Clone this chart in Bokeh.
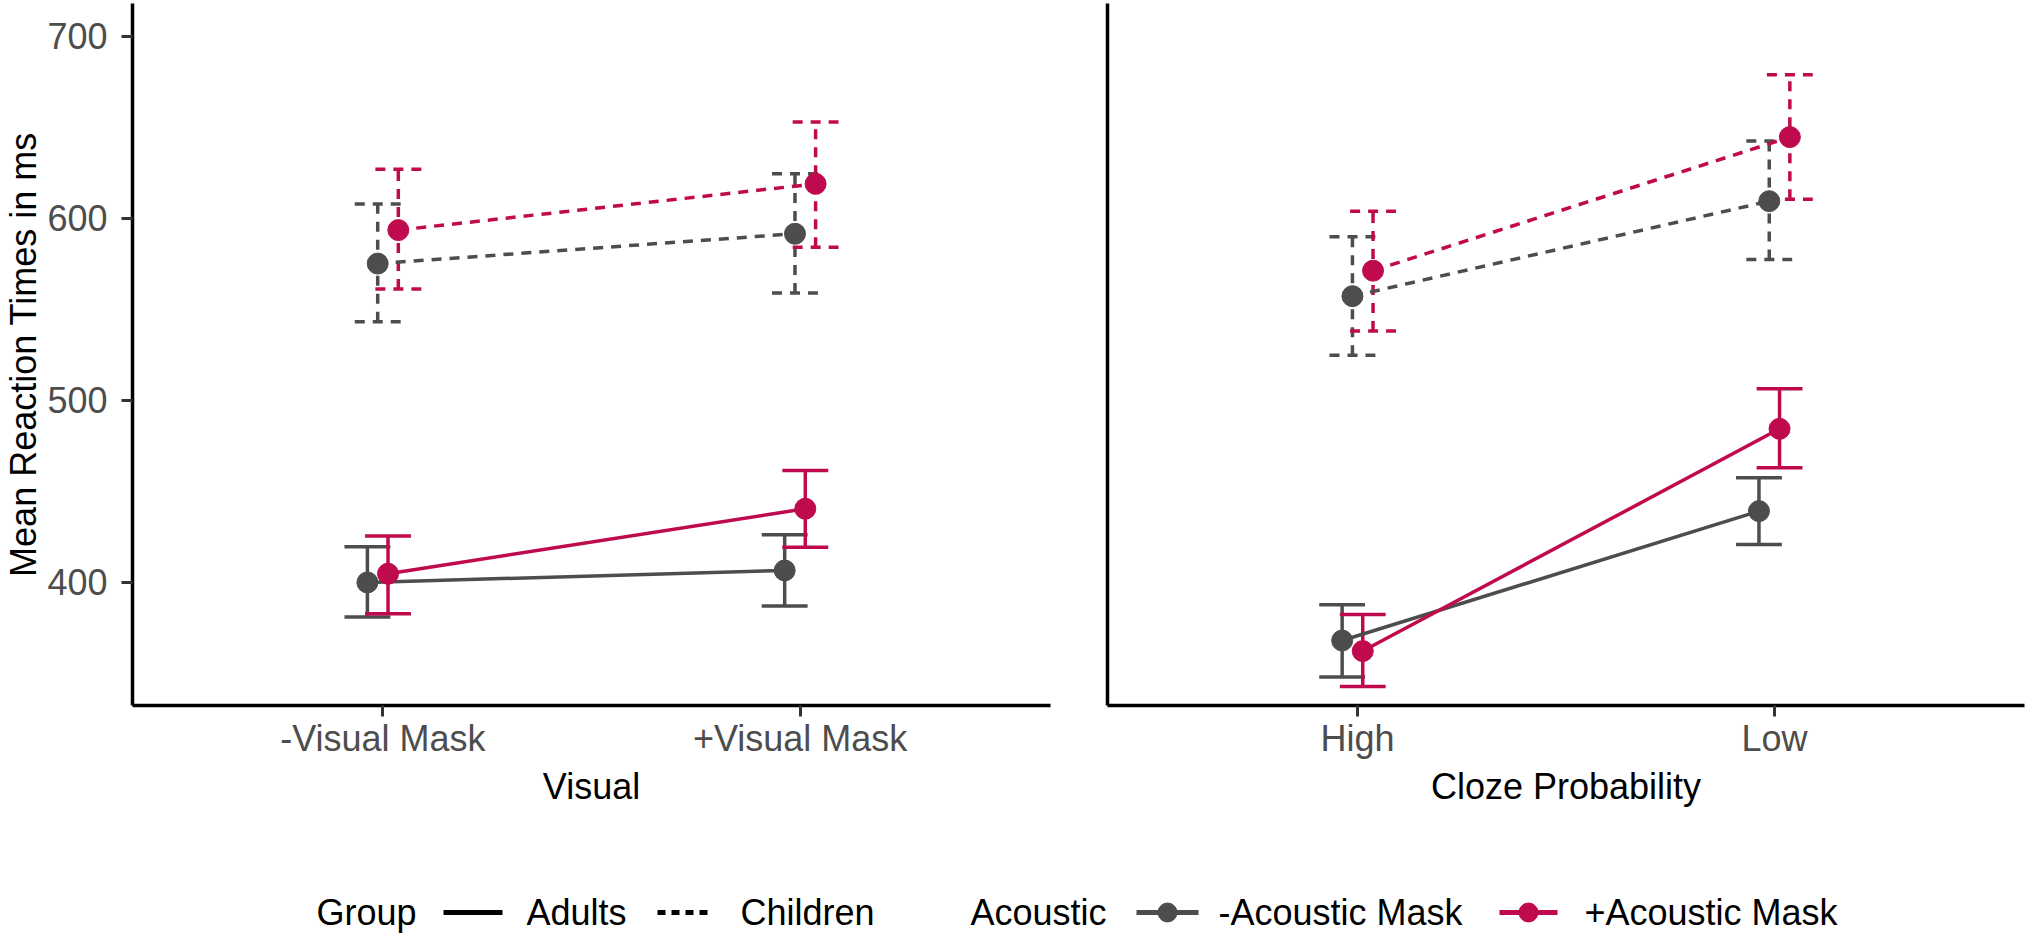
from bokeh.plotting import figure
from bokeh.models import Range1d, FixedTicker, ColumnDataSource
from bokeh.layouts import column, row
from bokeh.embed import file_html
from bokeh.resources import INLINE
from bokeh.core.properties import value

# ---------------- data ----------------
visual_categories = ["-Visual Mask", "+Visual Mask"]
cloze_categories = ["High", "Low"]
visual_title = "Visual"
cloze_title = "Cloze Probability"
y_title = "Mean Reaction Times in ms"
y_ticks = [400, 500, 600, 700]

group_labels = ["Adults", "Children"]
acoustic_labels = ["-Acoustic Mask", "+Acoustic Mask"]

# Visual panel
vis_adult_noac_mean = [400.0, 406.6]
vis_adult_noac_lo = [381.0, 387.0]
vis_adult_noac_hi = [419.6, 426.2]
vis_adult_ac_mean = [404.8, 440.5]
vis_adult_ac_lo = [382.8, 419.4]
vis_adult_ac_hi = [425.5, 461.5]
vis_child_noac_mean = [575.2, 591.6]
vis_child_noac_lo = [543.2, 559.0]
vis_child_noac_hi = [608.0, 624.6]
vis_child_ac_mean = [593.6, 619.0]
vis_child_ac_lo = [561.3, 584.2]
vis_child_ac_hi = [627.0, 653.0]

# Cloze probability panel
cloze_adult_noac_mean = [368.1, 439.2]
cloze_adult_noac_lo = [348.0, 420.9]
cloze_adult_noac_hi = [387.7, 457.5]
cloze_adult_ac_mean = [362.3, 484.4]
cloze_adult_ac_lo = [342.9, 463.0]
cloze_adult_ac_hi = [382.4, 506.4]
cloze_child_noac_mean = [557.3, 609.5]
cloze_child_noac_lo = [524.9, 577.5]
cloze_child_noac_hi = [589.9, 642.5]
cloze_child_ac_mean = [571.3, 644.7]
cloze_child_ac_lo = [538.2, 610.6]
cloze_child_ac_hi = [604.0, 679.0]

# ---------------- style ----------------
FONT = "Liberation Sans"
GRAY = "#4D4D4D"
RED = "#C00A4E"
DASH = "10 8"
LW = 3.5
DODGE = 0.0247
CAP_HALF = 0.055
Y_RANGE = (332.4, 718.1)


def series(prefix):
    g = globals()
    return (g[prefix + "_mean"], g[prefix + "_lo"], g[prefix + "_hi"])


def style_axes(p):
    p.xgrid.visible = False
    p.ygrid.visible = False
    p.outline_line_color = None
    p.background_fill_color = "white"
    p.border_fill_color = "white"
    for ax in p.axis:
        ax.axis_line_color = "black"
        ax.axis_line_width = 3.5
        ax.major_tick_line_color = "#333333"
        ax.major_tick_line_width = 3
        ax.major_tick_out = 11
        ax.major_tick_in = 0
        ax.minor_tick_line_color = None
        ax.major_label_text_font = FONT
        ax.major_label_text_font_size = "36px"
        ax.major_label_text_color = GRAY
        ax.axis_label_text_font = FONT
        ax.axis_label_text_font_size = "36px"
        ax.axis_label_text_font_style = "normal"
        ax.axis_label_text_color = "black"


def panel(categories, xtitle, prefix, show_y, min_left, min_right, frame_w):
    p = figure(frame_width=frame_w, frame_height=702,
               x_range=Range1d(0.4, 2.6), y_range=Range1d(*Y_RANGE),
               output_backend="svg", toolbar_location=None,
               min_border_left=min_left, min_border_right=min_right,
               min_border_top=3, min_border_bottom=110)
    style_axes(p)
    p.xaxis.ticker = FixedTicker(ticks=[1, 2])
    p.xaxis.major_label_overrides = {i + 1: c for i, c in enumerate(categories)}
    p.xaxis.axis_label = xtitle
    p.xaxis.major_label_standoff = 1
    p.xaxis.axis_label_standoff = 4
    if show_y:
        p.yaxis.ticker = FixedTicker(ticks=y_ticks)
        p.yaxis.axis_label = y_title
        p.yaxis.major_label_standoff = 14
        p.yaxis.axis_label_standoff = 0
    else:
        p.yaxis.ticker = FixedTicker(ticks=[])
        p.yaxis.major_tick_out = 0
        p.yaxis.major_label_text_font_size = "0px"

    combos = [("adult_noac", -1.5, GRAY, "solid"),
              ("child_noac", -0.5, GRAY, DASH),
              ("adult_ac", 0.5, RED, "solid"),
              ("child_ac", 1.5, RED, DASH)]
    srcs = []
    for key, k, col, dash in combos:
        mean, lo, hi = series(prefix + "_" + key)
        xs = [i + 1 + k * DODGE for i in range(len(categories))]
        src = ColumnDataSource(dict(x=xs, y=mean, lo=lo, hi=hi,
                                    xl=[x - CAP_HALF for x in xs],
                                    xr=[x + CAP_HALF for x in xs]))
        srcs.append((src, col, dash))
        p.segment(x0="x", y0="lo", x1="x", y1="hi", source=src,
                  line_color=col, line_width=LW, line_dash=dash)
        p.segment(x0="xl", y0="hi", x1="xr", y1="hi", source=src,
                  line_color=col, line_width=LW, line_dash=dash)
        p.segment(x0="xl", y0="lo", x1="xr", y1="lo", source=src,
                  line_color=col, line_width=LW, line_dash=dash)
    for src, col, dash in srcs:
        p.line(x="x", y="y", source=src, line_color=col, line_width=LW,
               line_dash=dash)
    for src, col, dash in srcs:
        p.scatter(x="x", y="y", source=src, size=21, fill_color=col,
                  line_color=col)
    return p


p1 = panel(visual_categories, visual_title, "vis", True, 132, 30, 918)
p2 = panel(cloze_categories, cloze_title, "cloze", False, 27, 8, 917)

# ---------------- legend strip ----------------
leg = figure(width=2032, height=121, x_range=Range1d(0, 2032),
             y_range=Range1d(936, 815), output_backend="svg",
             toolbar_location=None, x_axis_location=None,
             y_axis_location=None, min_border=0)
leg.xgrid.visible = False
leg.ygrid.visible = False
leg.outline_line_color = None

LEG_Y = 912
title_x = [316, 970]
title_text = ["Group", "Acoustic"]
item_text_x = [526, 740, 1218, 1584]
item_text = group_labels + acoustic_labels
key_x0 = [443, 657, 1136, 1499]
key_x1 = [502, 707, 1198, 1557]
key_color = ["black", "black", GRAY, RED]
key_dash = ["solid", "8 6", "solid", "solid"]

leg.text(x=title_x + item_text_x, y=[LEG_Y] * 6,
         text=title_text + item_text,
         text_font=value(FONT), text_font_size="36px",
         text_color="black", text_baseline="middle", text_align="left")
for i in range(4):
    leg.line(x=[key_x0[i], key_x1[i]], y=[LEG_Y, LEG_Y],
             line_color=key_color[i], line_width=5, line_dash=key_dash[i])
leg.scatter(x=[(key_x0[2] + key_x1[2]) / 2, (key_x0[3] + key_x1[3]) / 2],
            y=[LEG_Y, LEG_Y], size=19, fill_color=[GRAY, RED],
            line_color=[GRAY, RED])

layout = column(row(p1, p2), leg)
open("out.html", "w").write(file_html(layout, INLINE))
